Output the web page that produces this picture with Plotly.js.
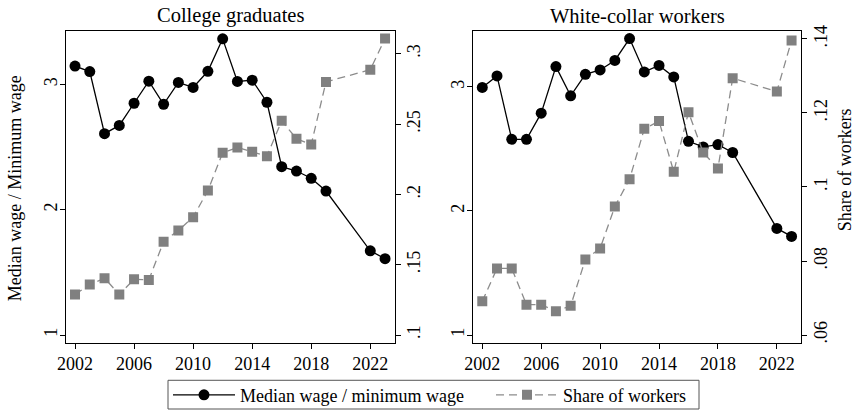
<!DOCTYPE html>
<html>
<head>
<meta charset="utf-8">
<script src="https://cdn.plot.ly/plotly-3.0.1.min.js"></script>
<style>html,body{margin:0;padding:0;background:#fff;}#chart{width:857px;height:414px;}</style>
</head>
<body>
<div id="chart"></div>
<script>
const years = [2002,2003,2004,2005,2006,2007,2008,2009,2010,2011,2012,2013,2014,2015,2016,2017,2018,2019,2022,2023];
const gradWage = [3.147,3.103,2.607,2.673,2.850,3.026,2.842,3.016,2.976,3.105,3.364,3.024,3.034,2.858,2.344,2.309,2.251,2.149,1.672,1.609];
const gradShare = [0.1289,0.1359,0.1404,0.1289,0.1396,0.1392,0.1664,0.1744,0.1838,0.2027,0.2296,0.2333,0.2303,0.2272,0.2523,0.2396,0.2354,0.2800,0.2887,0.3108];
const whiteWage = [2.995,3.088,2.577,2.577,2.788,3.163,2.928,3.101,3.136,3.213,3.389,3.120,3.173,3.080,2.561,2.516,2.535,2.471,1.859,1.795];
const whiteShare = [0.0691,0.0780,0.0780,0.0682,0.0682,0.0664,0.0679,0.0804,0.0834,0.0947,0.1021,0.1157,0.1178,0.1041,0.1202,0.1093,0.1050,0.1294,0.1258,0.1396];

const panelTitles = ["College graduates", "White-collar workers"];
const seriesNames = ["Median wage / minimum wage", "Share of workers"];
const yTitleLeft = "Median wage / Minimum wage";
const yTitleRight = "Share of workers";
const xTicks = [2002, 2006, 2010, 2014, 2018, 2022];
const wageTicks = [1, 2, 3];
const gradShareTicks = [0.1, 0.15, 0.2, 0.25, 0.3];
const gradShareLabels = [".1", ".15", ".2", ".25", ".3"];
const whiteShareTicks = [0.06, 0.08, 0.1, 0.12, 0.14];
const whiteShareLabels = [".06", ".08", ".1", ".12", ".14"];

const FONT = "Liberation Serif, Times New Roman, serif";
const W = 857, H = 414;
const plotTop = 31, plotBottom = 346;
const yDom = [1 - plotBottom / H, 1 - plotTop / H];

function wageTrace(y, xa, ya, show) {
  return {x: years, y: y, xaxis: xa, yaxis: ya, type: 'scatter', mode: 'lines+markers',
    name: seriesNames[0], showlegend: show, legendrank: 1,
    line: {color: '#000000', width: 1.3},
    marker: {symbol: 'circle', size: 11, color: '#000000'}};
}
function shareTrace(y, xa, ya, show) {
  return {x: years, y: y, xaxis: xa, yaxis: ya, type: 'scatter', mode: 'lines+markers',
    name: seriesNames[1], showlegend: show, legendrank: 2,
    line: {color: '#8c8c8c', width: 1.3, dash: '8px,5px'},
    marker: {symbol: 'square', size: 10, color: '#808080'}};
}

const data = [
  wageTrace(gradWage, 'x', 'y', true),
  shareTrace(gradShare, 'x', 'y2', true),
  wageTrace(whiteWage, 'x2', 'y3', false),
  shareTrace(whiteShare, 'x2', 'y4', false)
];

const axFont = {family: FONT, size: 18, color: '#000'};
function xAx(dom, anchor) {
  return {domain: dom, anchor: anchor, range: [2001.39, 2023.64], tickmode: 'array', tickvals: xTicks,
    ticks: 'outside', ticklen: 5, tickcolor: '#000', showgrid: false, zeroline: false,
    showline: true, mirror: true, linecolor: '#000', linewidth: 1, tickfont: axFont};
}
function yAx(range, vals, texts, side, anchor, overlay, standoff) {
  const a = {domain: yDom, anchor: anchor, range: range, tickmode: 'array', tickvals: vals,
    ticks: 'outside', ticklen: 5, tickcolor: '#000', showgrid: false, zeroline: false,
    showline: true, linecolor: '#000', linewidth: 1, side: side, tickangle: -90, tickfont: axFont,
    ticklabelstandoff: standoff};
  if (texts) a.ticktext = texts;
  if (overlay) a.overlaying = overlay;
  return a;
}

const layout = {
  width: W, height: H,
  margin: {l: 0, r: 0, t: 0, b: 0},
  paper_bgcolor: '#fff', plot_bgcolor: '#fff',
  font: {family: FONT, color: '#000'},
  xaxis: xAx([66 / W, 394.5 / W], 'y'),
  xaxis2: xAx([473.3 / W, 801 / W], 'y3'),
  yaxis: yAx([0.939, 3.429], wageTicks, null, 'left', 'x', null, -4),
  yaxis2: yAx([0.09458, 0.3164], gradShareTicks, gradShareLabels, 'right', 'x', 'y', -2),
  yaxis3: yAx([0.9386, 3.4525], wageTicks, null, 'left', 'x2', null, -4),
  yaxis4: yAx([0.05794, 0.14222], whiteShareTicks, whiteShareLabels, 'right', 'x2', 'y3', -2),
  showlegend: true,
  legend: {orientation: 'h', x: 168 / W, xanchor: 'left', y: 1 - 399 / H, yanchor: 'middle',
    bgcolor: 'rgba(0,0,0,0)', borderwidth: 0, font: {family: FONT, size: 18, color: '#000'},
    traceorder: 'normal', itemwidth: 62, tracegroupgap: 0, entrywidth: 246, entrywidthmode: 'pixels'},
  shapes: [
    {type: 'rect', xref: 'paper', yref: 'paper', x0: 168 / W, x1: 699 / W, y0: 1 - 413 / H, y1: 1 - 384 / H,
      line: {color: '#555', width: 1}, fillcolor: 'rgba(0,0,0,0)', layer: 'below'}
  ],
  annotations: [
    {text: panelTitles[0], xref: 'paper', yref: 'paper', x: 230 / W, y: 1 - 16 / H, xanchor: 'center', yanchor: 'middle', showarrow: false, font: {family: FONT, size: 20.5, color: '#000'}},
    {text: panelTitles[1], xref: 'paper', yref: 'paper', x: 637 / W, y: 1 - 16 / H, xanchor: 'center', yanchor: 'middle', showarrow: false, font: {family: FONT, size: 20.5, color: '#000'}},
    {text: yTitleLeft, xref: 'paper', yref: 'paper', x: 15 / W, y: 1 - 190 / H, xanchor: 'center', yanchor: 'middle', textangle: -90, showarrow: false, font: {family: FONT, size: 18, color: '#000'}},
    {text: yTitleRight, xref: 'paper', yref: 'paper', x: 845 / W, y: 1 - 172 / H, xanchor: 'center', yanchor: 'middle', textangle: -90, showarrow: false, font: {family: FONT, size: 18, color: '#000'}}
  ]
};

Plotly.newPlot('chart', data, layout, {displayModeBar: false, staticPlot: true});
</script>
</body>
</html>
